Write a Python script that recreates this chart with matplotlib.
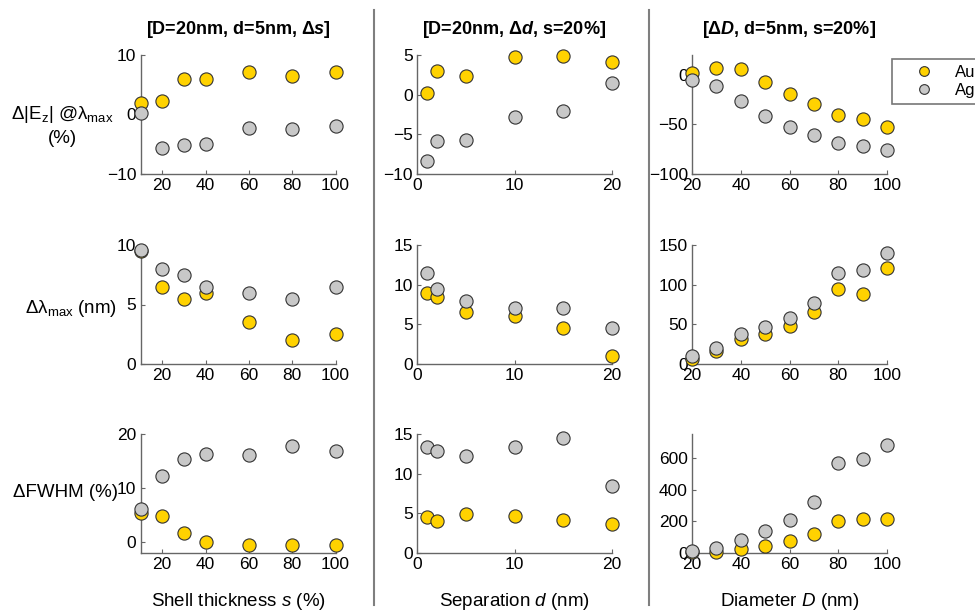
import numpy as np
import matplotlib
matplotlib.use("Agg")
import matplotlib.pyplot as plt
from matplotlib.lines import Line2D

plt.rcParams['font.family'] = ['Liberation Sans', 'DejaVu Sans']
plt.rcParams['mathtext.fontset'] = 'custom'
plt.rcParams['mathtext.rm'] = 'Liberation Sans'
plt.rcParams['mathtext.it'] = 'Liberation Sans:italic'
plt.rcParams['mathtext.bf'] = 'Liberation Sans:bold'
plt.rcParams['mathtext.bfit'] = 'Liberation Sans:italic:bold'

# sweep variables
s_vals = [10, 20, 30, 40, 60, 80, 100]          # shell thickness (%)
d_vals = [1, 2, 5, 10, 15, 20]                  # separation (nm)
D_vals = [20, 30, 40, 50, 60, 70, 80, 90, 100]  # diameter (nm)

# delta |Ez| at lambda_max (%)
ez_s_au = [2.0, 2.2, 6.0, 6.0, 7.2, 6.5, 7.2]
ez_s_ag = [0.3, -5.7, -5.2, -5.0, -2.2, -2.4, -2.0]
ez_d_au = [0.2, 3.0, 2.3, 4.8, 4.9, 4.1]
ez_d_ag = [-8.3, -5.8, -5.7, -2.8, -2.0, 1.5]
ez_D_au = [2, 7, 6, -7, -19, -29, -40, -45, -53]
ez_D_ag = [-5, -11, -26, -42, -53, -61, -69, -72, -76]

# delta lambda_max (nm)
lam_s_au = [9.5, 6.5, 5.5, 6.0, 3.5, 2.0, 2.5]
lam_s_ag = [9.6, 8.0, 7.5, 6.5, 6.0, 5.5, 6.5]
lam_d_au = [9.0, 8.5, 6.5, 6.0, 4.5, 1.0]
lam_d_ag = [11.5, 9.5, 8.0, 7.0, 7.0, 4.5]
lam_D_au = [6.7, 16.4, 31.6, 37.5, 48.5, 65.3, 94, 88, 121]
lam_D_ag = [10.5, 20.6, 37.9, 46.8, 58.2, 76.3, 115, 118.5, 140]

# delta FWHM (%)
fw_s_au = [5.4, 4.8, 1.7, 0.0, -0.6, -0.6, -0.6]
fw_s_ag = [6.1, 12.2, 15.3, 16.3, 16.1, 17.8, 16.8]
fw_d_au = [4.6, 4.0, 4.9, 4.7, 4.2, 3.6]
fw_d_ag = [13.3, 12.8, 12.2, 13.4, 14.5, 8.5]
fw_D_au = [5, 4, 25, 46, 75, 122, 203, 212, 216]
fw_D_ag = [13, 31, 80, 136, 208, 321, 569, 592, 680]

col_titles = [r"[D=20nm, d=5nm, $\mathbf{\Delta}\mathbfit{s}$]",
              r"[D=20nm, $\mathbf{\Delta}\mathbfit{d}$, s=20%]",
              r"[$\mathbf{\Delta}\mathbfit{D}$, d=5nm, s=20%]"]
x_labels = [r"Shell thickness $s$ (%)", r"Separation $d$ (nm)", r"Diameter $D$ (nm)"]
y_labels = ["Δ|E$_\\mathrm{z}$| @λ$_\\mathrm{max}$\n(%)",
            "Δλ$_\\mathrm{max}$ (nm)",
            "ΔFWHM (%)"]

xs = [s_vals, d_vals, D_vals]
data = [
    [(ez_s_au, ez_s_ag), (ez_d_au, ez_d_ag), (ez_D_au, ez_D_ag)],
    [(lam_s_au, lam_s_ag), (lam_d_au, lam_d_ag), (lam_D_au, lam_D_ag)],
    [(fw_s_au, fw_s_ag), (fw_d_au, fw_d_ag), (fw_D_au, fw_D_ag)],
]
xlims = [(10, 100), (0, 20), (20, 100)]
xticks = [[20, 40, 60, 80, 100], [0, 10, 20], [20, 40, 60, 80, 100]]
ylims = [[(-10, 10), (-10, 5), (-100, 20)],
         [(0, 10), (0, 15), (0, 150)],
         [(-2, 20), (0, 15), (0, 750)]]
yticks = [[[-10, 0, 10], [-10, -5, 0, 5], [-100, -50, 0]],
          [[0, 5, 10], [0, 5, 10, 15], [0, 50, 100, 150]],
          [[0, 10, 20], [0, 5, 10, 15], [0, 200, 400, 600]]]

AU = '#FFD200'
AG = '#C8C8C8'
EDGE = '#333333'
SPINE = '#666666'

W, H = 975, 612
fig = plt.figure(figsize=(W / 100, H / 100), dpi=100)

col_left = [140.5, 417, 692]
col_width = 195
row_top = [55, 245, 434]
row_height = 119

for r in range(3):
    for c in range(3):
        ax = fig.add_axes([col_left[c] / W, 1 - (row_top[r] + row_height) / H,
                           col_width / W, row_height / H])
        au, ag = data[r][c]
        ax.plot(xs[c], au, 'o', ms=9.5, mfc=AU, mec=EDGE, mew=0.8, clip_on=False, zorder=3)
        ax.plot(xs[c], ag, 'o', ms=9.5, mfc=AG, mec=EDGE, mew=0.8, clip_on=False, zorder=4)
        ax.set_xlim(*xlims[c])
        ax.set_ylim(*ylims[r][c])
        ax.set_xticks(xticks[c])
        ax.set_yticks(yticks[r][c])
        for side in ('top', 'right'):
            ax.spines[side].set_visible(False)
        for side in ('left', 'bottom'):
            ax.spines[side].set_color(SPINE)
            ax.spines[side].set_linewidth(1.0)
        ax.tick_params(direction='in', length=3, width=0.8, color=SPINE,
                       labelsize=12.5, pad=3)
        if r == 0:
            ax.set_title(col_titles[c], fontsize=13, fontweight='bold', pad=15)
        if r == 2:
            ax.set_xlabel(x_labels[c], fontsize=13.5)
            ax.xaxis.set_label_coords(0.5, -0.32)
        if c == 0:
            ax.set_ylabel(y_labels[r], fontsize=13.5, rotation=0, ha='center',
                          va='center', linespacing=1.4)
            ax.yaxis.set_label_coords([-0.40, -0.354, -0.385][r], [0.41, 0.47, 0.51][r])

# column separators
for sep_x in (374, 649):
    fig.add_artist(Line2D([sep_x / W, sep_x / W], [1 - 10 / H, 1 - 605 / H],
                          color='#7f7f7f', lw=1.5))

handles = [Line2D([], [], ls='none', marker='o', ms=7, mfc=AU, mec=EDGE, mew=0.8),
           Line2D([], [], ls='none', marker='o', ms=7, mfc=AG, mec=EDGE, mew=0.8)]
leg = fig.legend(handles, ['Au', 'Ag'], loc='upper left',
                 bbox_to_anchor=(892 / W, 1 - 59 / H), fontsize=12,
                 frameon=True, fancybox=False, edgecolor='#555555',
                 handlelength=3.1, handletextpad=0.35, borderpad=0.35,
                 labelspacing=0.2, borderaxespad=0)
leg.get_frame().set_linewidth(1.2)

fig.savefig('out.png', dpi=100)
